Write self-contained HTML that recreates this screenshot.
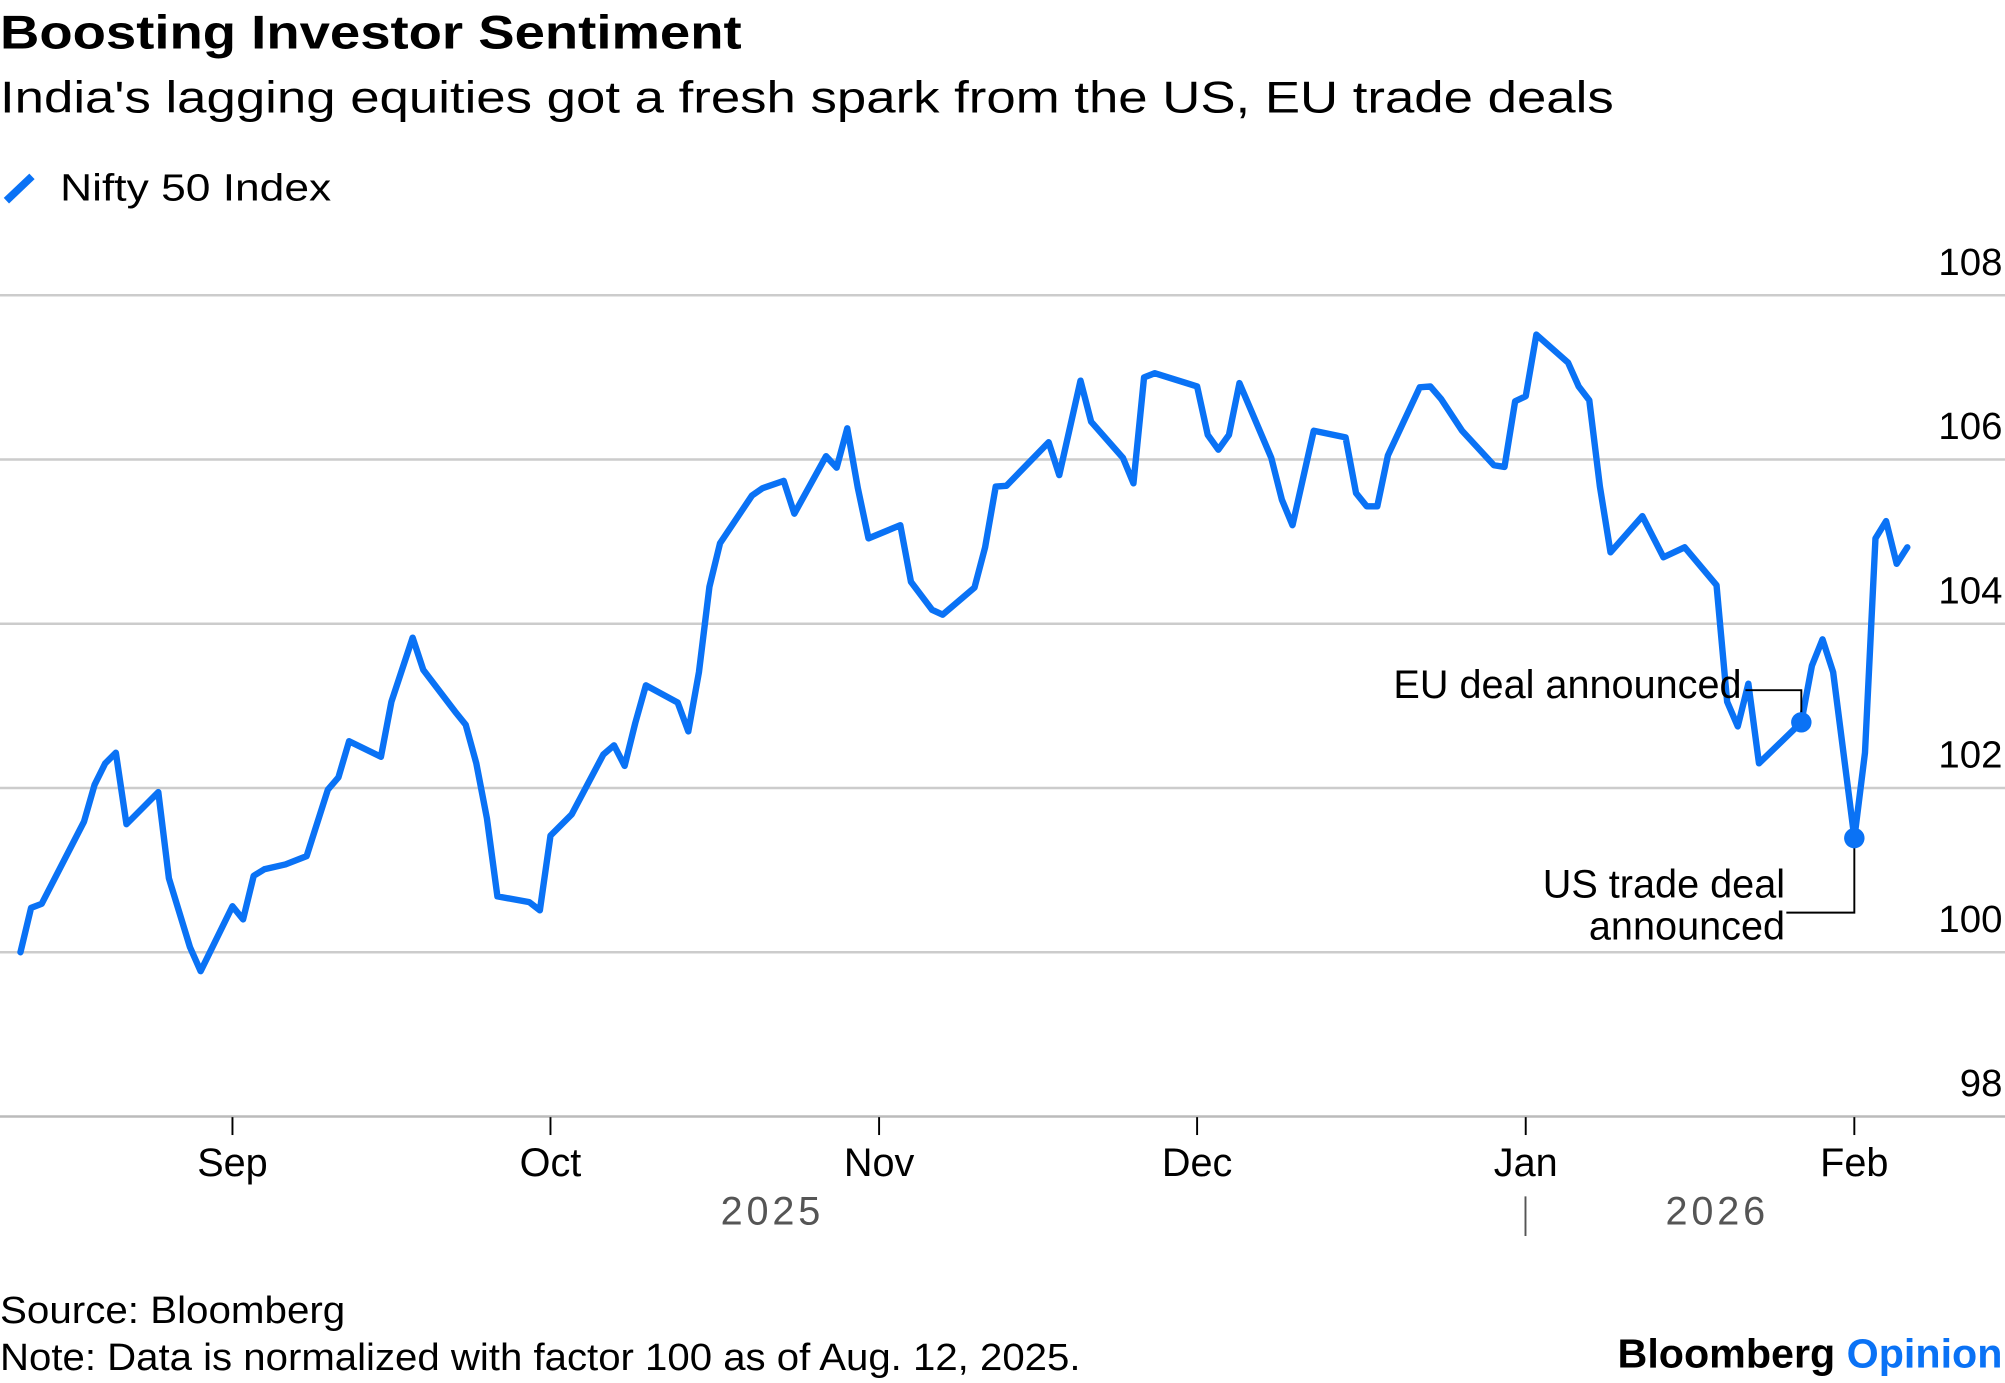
<!DOCTYPE html>
<html><head><meta charset="utf-8"><style>
html,body{margin:0;padding:0;background:#fff;}
svg{display:block;font-family:"Liberation Sans",Arial,sans-serif;}
</style></head><body>
<svg id="chart" width="2005" height="1383" viewBox="0 0 1568 1082" preserveAspectRatio="none" xmlns="http://www.w3.org/2000/svg">
<text x="0" y="38" font-size="37" font-weight="bold" fill="#000" textLength="580" lengthAdjust="spacingAndGlyphs">Boosting Investor Sentiment</text>
<text x="0" y="88" font-size="35" fill="#000" textLength="1262" lengthAdjust="spacingAndGlyphs">India's lagging equities got a fresh spark from the US, EU trade deals</text>
<g>
<line x1="5" y1="157" x2="25" y2="138" stroke="#0a72f5" stroke-width="6"/>
<text x="47" y="157" font-size="30" fill="#000" textLength="212" lengthAdjust="spacingAndGlyphs">Nifty 50 Index</text>
</g>
<g id="grid"></g>
<g id="xaxis"></g>
<g id="series"></g>
<g id="annot"></g>
<text x="0" y="1035" font-size="30" fill="#000" textLength="270" lengthAdjust="spacingAndGlyphs">Source: Bloomberg</text>
<text x="0" y="1072" font-size="30" fill="#000" textLength="845" lengthAdjust="spacingAndGlyphs">Note: Data is normalized with factor 100 as of Aug. 12, 2025.</text>
<text x="1566" y="1070" font-size="32" font-weight="bold" text-anchor="end" fill="#000" textLength="301" lengthAdjust="spacingAndGlyphs">Bloomberg <tspan fill="#0a72f5">Opinion</tspan></text>
</svg>
<script>
const yTicks = [98, 100, 102, 104, 106, 108];
const monthLabels = ["Sep", "Oct", "Nov", "Dec", "Jan", "Feb"];
const monthDays = [20, 50, 81, 111, 142, 173];
const days = [0,1,2,6,7,8,9,10,13,14,16,17,20,21,22,23,25,27,29,30,31,34,35,37,38,41,42,43,44,45,48,49,50,52,55,56,57,58,59,62,63,64,65,66,69,70,72,73,76,77,78,79,80,83,84,86,87,90,91,92,93,97,98,100,101,104,105,106,107,111,112,113,114,115,118,119,120,122,125,126,127,128,129,132,133,134,136,139,140,141,142,143,146,147,148,149,150,153,155,157,160,161,162,163,164,168,169,170,171,173,174,175,176,177,178];
const values = [100.00,100.54,100.59,101.59,102.04,102.30,102.43,101.56,101.95,100.90,100.06,99.77,100.56,100.40,100.93,101.01,101.07,101.17,101.98,102.13,102.57,102.38,103.05,103.83,103.44,102.93,102.77,102.30,101.63,100.68,100.61,100.51,101.42,101.68,102.41,102.52,102.27,102.79,103.25,103.04,102.69,103.41,104.45,104.98,105.56,105.65,105.74,105.34,106.04,105.90,106.38,105.65,105.04,105.20,104.51,104.17,104.11,104.44,104.93,105.67,105.68,106.21,105.81,106.96,106.46,106.02,105.71,107.00,107.05,106.89,106.30,106.12,106.30,106.93,106.02,105.51,105.20,106.35,106.27,105.59,105.43,105.43,106.05,106.88,106.89,106.74,106.35,105.93,105.91,106.71,106.77,107.52,107.18,106.89,106.72,105.67,104.87,105.31,104.81,104.93,104.47,103.05,102.75,103.27,102.30,102.80,103.49,103.81,103.41,101.39,102.43,105.04,105.25,104.73,104.93];
const eventDays = [168, 173];
const eventValues = [102.80, 101.39];

const NS = "http://www.w3.org/2000/svg";
const xScale = d => 16 + d * 8.29;
const yScale = v => 745 - (v - 100) * 64.25;
function mk(tag, attrs, parent) {
  const e = document.createElementNS(NS, tag);
  for (const k in attrs) e.setAttribute(k, attrs[k]);
  parent.appendChild(e);
  return e;
}
const grid = document.getElementById('grid');
yTicks.forEach((t) => {
  const y = yScale(t);
  const l = mk('line', {x1: 0, x2: 1568, y1: y, y2: y, stroke: t === 98 ? '#bbb' : '#ccc', 'stroke-width': 2}, grid);
  
  
  const tx = mk('text', {x: 1566, y: y - 16, 'font-size': 30, 'text-anchor': 'end', fill: '#000'}, grid);
  tx.textContent = String(t);
  
  
});
const xa = document.getElementById('xaxis');
monthLabels.forEach((m, i) => {
  const x = xScale(monthDays[i]);
  const tk = mk('line', {x1: x, x2: x, y1: 874, y2: 888, stroke: '#000', 'stroke-width': 1.5}, xa);
  
  
  const tx = mk('text', {x: x, y: 920, 'font-size': 31, 'text-anchor': 'middle', fill: '#000'}, xa);
  tx.textContent = m;
  
  
});
const y1 = mk('text', {x: 604, y: 958, 'font-size': 31, 'text-anchor': 'middle', fill: '#555', 'letter-spacing': 3}, xa);
y1.textContent = '2025';


const y2 = mk('text', {x: 1343, y: 958, 'font-size': 31, 'text-anchor': 'middle', fill: '#555', 'letter-spacing': 3}, xa);
y2.textContent = '2026';


const yd = mk('line', {x1: 1193, x2: 1193, y1: 936, y2: 967, stroke: '#555', 'stroke-width': 1.5}, xa);



const ser = document.getElementById('series');
const pts = days.map((d, i) => xScale(d).toFixed(1) + ',' + yScale(values[i]).toFixed(1)).join(' ');
const pl = mk('polyline', {points: pts, fill: 'none', stroke: '#0a72f5', 'stroke-width': 5, 'stroke-linejoin': 'round', 'stroke-linecap': 'round'}, ser);



const an = document.getElementById('annot');
const ex = xScale(eventDays[0]), ey = yScale(eventValues[0]);
const eul = mk('polyline', {points: `1365,540 ${ex},540 ${ex},${ey}`, fill: 'none', stroke: '#000', 'stroke-width': 1.5}, an);


const eud = mk('circle', {cx: ex, cy: ey, r: 8, fill: '#0a72f5'}, an);


const eut = mk('text', {x: 1362, y: 546, 'font-size': 31, 'text-anchor': 'end', fill: '#000'}, an);
eut.textContent = 'EU deal announced';


const ux = xScale(eventDays[1]), uy = yScale(eventValues[1]);
const usl = mk('polyline', {points: `${ux},${uy} ${ux},714 1397,714`, fill: 'none', stroke: '#000', 'stroke-width': 1.5}, an);


const usd = mk('circle', {cx: ux, cy: uy, r: 8, fill: '#0a72f5'}, an);


const ut1 = mk('text', {x: 1396, y: 702, 'font-size': 31, 'text-anchor': 'end', fill: '#000'}, an);
ut1.textContent = 'US trade deal';


const ut2 = mk('text', {x: 1396, y: 735, 'font-size': 31, 'text-anchor': 'end', fill: '#000'}, an);
ut2.textContent = 'announced';


</script>
</body></html>
